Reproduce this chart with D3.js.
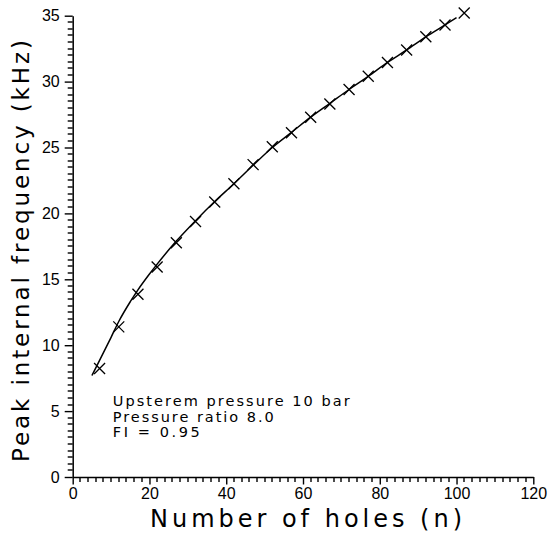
<!DOCTYPE html>
<html>
<head>
<meta charset="utf-8">
<script src="https://cdn.jsdelivr.net/npm/d3@7"></script>
<style>
  html, body { margin: 0; padding: 0; background: #fff; }
  svg { display: block; }
  text { fill: #000; }
</style>
</head>
<body>
<svg id="chart" width="548" height="535"></svg>
<script>
// ---- data ----
const pointN = [7, 12, 17, 22, 27, 32, 37, 42, 47, 52, 57, 62, 67, 72, 77, 82, 87, 92, 97, 102];
const pointF = [8.23, 11.39, 13.86, 15.93, 17.77, 19.39, 20.86, 22.25, 23.7, 25.06, 26.12, 27.29, 28.3, 29.4, 30.4, 31.45, 32.4, 33.4, 34.3, 35.2];

const curveN = [5, 7, 10, 12, 15, 17, 20, 22, 27, 32, 37, 42, 47, 52, 57, 62, 67, 72, 77, 82, 87, 92, 97, 100];
const curveF = [7.7, 8.85, 10.6, 11.8, 13.3, 14.2, 15.4, 16.15, 17.9, 19.45, 20.9, 22.25, 23.65, 25.0, 26.15, 27.3, 28.35, 29.4, 30.4, 31.45, 32.4, 33.4, 34.3, 34.85];

const xTicks = [0, 20, 40, 60, 80, 100, 120];
const yTicks = [0, 5, 10, 15, 20, 25, 30, 35];
const xMinorTicks = [2, 4, 6, 8, 10, 12, 14, 16, 18, 22, 24, 26, 28, 30, 32, 34, 36, 38,
  42, 44, 46, 48, 50, 52, 54, 56, 58, 62, 64, 66, 68, 70, 72, 74, 76, 78,
  82, 84, 86, 88, 90, 92, 94, 96, 98, 102, 104, 106, 108, 110, 112, 114, 116, 118];
const yMinorTicks = [0.5, 1, 1.5, 2, 2.5, 3, 3.5, 4, 4.5, 5.5, 6, 6.5, 7, 7.5, 8, 8.5, 9, 9.5,
  10.5, 11, 11.5, 12, 12.5, 13, 13.5, 14, 14.5, 15.5, 16, 16.5, 17, 17.5, 18, 18.5, 19, 19.5,
  20.5, 21, 21.5, 22, 22.5, 23, 23.5, 24, 24.5, 25.5, 26, 26.5, 27, 27.5, 28, 28.5, 29, 29.5,
  30.5, 31, 31.5, 32, 32.5, 33, 33.5, 34, 34.5];

const xTitle = "Number of holes (n)";
const yTitle = "Peak internal frequency (kHz)";
const notes = ["Upsterem pressure 10 bar", "Pressure ratio 8.0", "FI = 0.95"];

// ---- layout ----
const svg = d3.select("#chart");
const x = d3.scaleLinear().domain([0, 120]).range([72.7, 533.3]);
const y = d3.scaleLinear().domain([0, 35]).range([477, 15.7]);

const tickFont = "Liberation Sans, Arial, sans-serif";
const labelFont = "DejaVu Sans, sans-serif";

// minor ticks
svg.append("g").selectAll("rect").data(xMinorTicks).join("rect")
  .attr("x", d => Math.round(x(d)) - 0.7).attr("y", y(0))
  .attr("width", 1.4).attr("height", 5)
  .attr("fill", "#000");
svg.append("g").selectAll("rect").data(yMinorTicks).join("rect")
  .attr("x", x(0) - 5).attr("y", d => Math.round(y(d)) - 0.7)
  .attr("width", 5).attr("height", 1.4)
  .attr("fill", "#000");

// major axes
const gx = svg.append("g").attr("transform", `translate(0,${y(0)})`);
gx.call(d3.axisBottom(x).tickValues(xTicks).tickSize(7.5).tickSizeOuter(0).tickPadding(3).tickFormat(d3.format("d")));

const gy = svg.append("g").attr("transform", `translate(${x(0)},0)`);
gy.call(d3.axisLeft(y).tickValues(yTicks).tickSize(8).tickSizeOuter(0).tickPadding(5).tickFormat(d3.format("d")));

[gx, gy].forEach(g => {
  g.selectAll(".domain").attr("stroke", "#000").attr("stroke-width", 1.5);
  g.selectAll(".tick line").attr("stroke", "#000").attr("stroke-width", 1.4);
  g.selectAll(".tick text").attr("font-family", tickFont)
    .attr("font-size", 16).attr("fill", "#000");
});

// curve
const curveData = curveN.map((n, i) => [n, curveF[i]]);
svg.append("path")
  .datum(curveData)
  .attr("fill", "none")
  .attr("stroke", "#000")
  .attr("stroke-width", 1.5)
  .attr("d", d3.line().x(d => x(d[0])).y(d => y(d[1])).curve(d3.curveMonotoneX));

// crosses
const pts = pointN.map((n, i) => [n, pointF[i]]);
const s = 5.5;
svg.append("g").selectAll("path").data(pts).join("path")
  .attr("d", d => {
    const cx = x(d[0]), cy = y(d[1]);
    return `M${cx - s},${cy - s}L${cx + s},${cy + s}M${cx - s},${cy + s}L${cx + s},${cy - s}`;
  })
  .attr("stroke", "#000").attr("stroke-width", 1.3).attr("fill", "none");

// annotation
const noteLens = [237, 161, 87];
const noteBase = [405.7, 421.5, 437.2];
notes.forEach((t, i) => {
  svg.append("text")
    .attr("x", 112.7).attr("y", noteBase[i])
    .attr("font-family", labelFont)
    .attr("font-size", 14.5)
    .attr("textLength", noteLens[i]).attr("lengthAdjust", "spacing")
    .text(t);
});

// axis titles
svg.append("text")
  .attr("x", 150).attr("y", 527)
  .attr("font-family", labelFont)
  .attr("font-size", 24)
  .attr("textLength", 312).attr("lengthAdjust", "spacing")
  .text(xTitle);

svg.append("text")
  .attr("transform", "translate(28.5,462) rotate(-90)")
  .attr("font-family", labelFont)
  .attr("font-size", 23)
  .attr("textLength", 422).attr("lengthAdjust", "spacing")
  .text(yTitle);
</script>
</body>
</html>
